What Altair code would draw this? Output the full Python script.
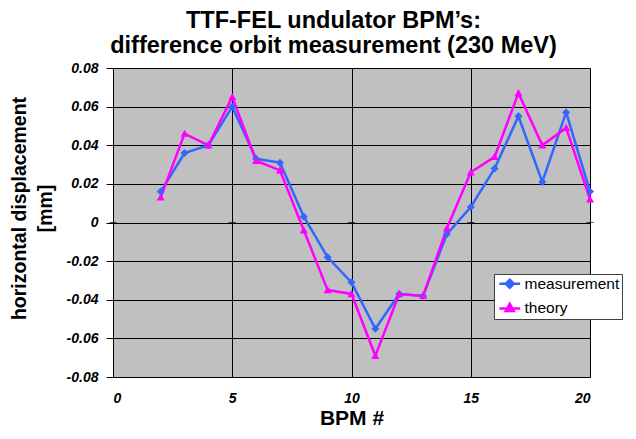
import altair as alt
import pandas as pd

bpm = [2, 3, 4, 5, 6, 7, 8, 9, 10, 11, 12, 13, 14, 15, 16, 17, 18, 19, 20]
measurement = [0.016, 0.036, 0.040, 0.060, 0.033, 0.031, 0.003, -0.018, -0.031, -0.055,
               -0.037, -0.038, -0.006, 0.008, 0.028, 0.055, 0.021, 0.057, 0.016]
theory = [0.013, 0.046, 0.040, 0.065, 0.032, 0.027, -0.004, -0.035, -0.037, -0.069,
          -0.037, -0.038, -0.003, 0.026, 0.034, 0.067, 0.040, 0.049, 0.012]
series_names = ["measurement", "theory"]
series_colors = ["#3366FF", "#FF00FF"]
x_ticks = [0, 5, 10, 15, 20]
y_ticks = [-0.08, -0.06, -0.04, -0.02, 0, 0.02, 0.04, 0.06, 0.08]

rows = []
for i, b in enumerate(bpm):
    rows.append({"bpm": b, "value": measurement[i], "series": series_names[0]})
    rows.append({"bpm": b, "value": theory[i], "series": series_names[1]})
df = pd.DataFrame(rows)
ticks_df = pd.DataFrame({"bpm": x_ticks, "value": [0] * len(x_ticks)})

FONT = "Liberation Sans"
# line + marker glyphs (the line part is invisible on plotted points: strokeWidth 0)
diamond_path = "M-2.6,0H2.6M0,-1L1,0L0,1L-1,0Z"
triangle_path = "M-2.6,0.2H2.6M0,-1L1,0.8L-1,0.8Z"

legend = alt.Legend(title=None, orient="none", legendX=381, legendY=206)

x_axis = alt.Axis(values=x_ticks, title="BPM #", grid=True, domain=False,
                  ticks=False, labelPadding=14, titlePadding=2, titleFontSize=21)
y_axis = alt.Axis(values=y_ticks,
                  title=["horizontal displacement", "[mm]"],
                  labelExpr="(datum.value < 0 ? '-' : '') + (datum.value == 0 ? '0' : format(abs(datum.value), '.2f'))",
                  labelOverlap=False,
                  grid=True, domain=True, ticks=True, tickSize=7,
                  labelPadding=8, titleFontSize=19.5, titleLineHeight=26,
                  titleBaseline="alphabetic", titleX=-88, titleY=140)
x_scale = alt.Scale(domain=[0, 20], nice=False)
y_scale = alt.Scale(domain=[-0.08, 0.08], nice=False)

def xe():
    return alt.X("bpm:Q", scale=x_scale, axis=x_axis)

def ye():
    return alt.Y("value:Q", scale=y_scale, axis=y_axis)

color_scale = alt.Scale(domain=series_names, range=series_colors)

lines = alt.Chart(df).mark_line(strokeWidth=2.5).encode(
    x=xe(), y=ye(), color=alt.Color("series:N", scale=color_scale, legend=legend))

points = alt.Chart(df).mark_point(filled=True, opacity=1, size=64, strokeWidth=0).encode(
    x=xe(), y=ye(),
    color=alt.Color("series:N", scale=color_scale, legend=legend),
    shape=alt.Shape("series:N", scale=alt.Scale(domain=series_names,
                                                range=[diamond_path, triangle_path]),
                    legend=legend),
)

xticks = alt.Chart(ticks_df).mark_tick(color="black", size=7, thickness=1, orient="horizontal").encode(
    x=xe(), y=ye())

chart = alt.layer(lines, xticks, points).properties(
    width=477, height=309,
    title=alt.TitleParams(["TTF-FEL undulator BPM\u2019s:", "difference orbit measurement (230 MeV)"],
                          fontSize=23.5, font=FONT, fontWeight="bold", lineHeight=25,
                          anchor="middle", frame="group", offset=4, dx=-18, color="black"),
    padding={"left": 0, "top": 0, "right": 0, "bottom": 0},
).configure_view(fill="#C0C0C0", stroke="#808080", strokeWidth=1).configure_axis(
    gridColor="black", gridOpacity=1, gridWidth=1,
    domainColor="black", tickColor="black",
    labelFont=FONT, labelFontSize=14, labelFontWeight="bold", labelFontStyle="italic",
    labelColor="black",
    titleFont=FONT, titleFontWeight="bold", titleColor="black",
).configure_legend(
    fillColor="white", strokeColor="#404040",
    padding=2, labelFontSize=15.5, labelFont=FONT, labelColor="black",
    symbolStrokeWidth=2.5, symbolSize=64,
    labelOffset=7, rowPadding=5, symbolOffset=6,
)

chart.save("out.html", embed_options={"renderer": "svg", "actions": False})
